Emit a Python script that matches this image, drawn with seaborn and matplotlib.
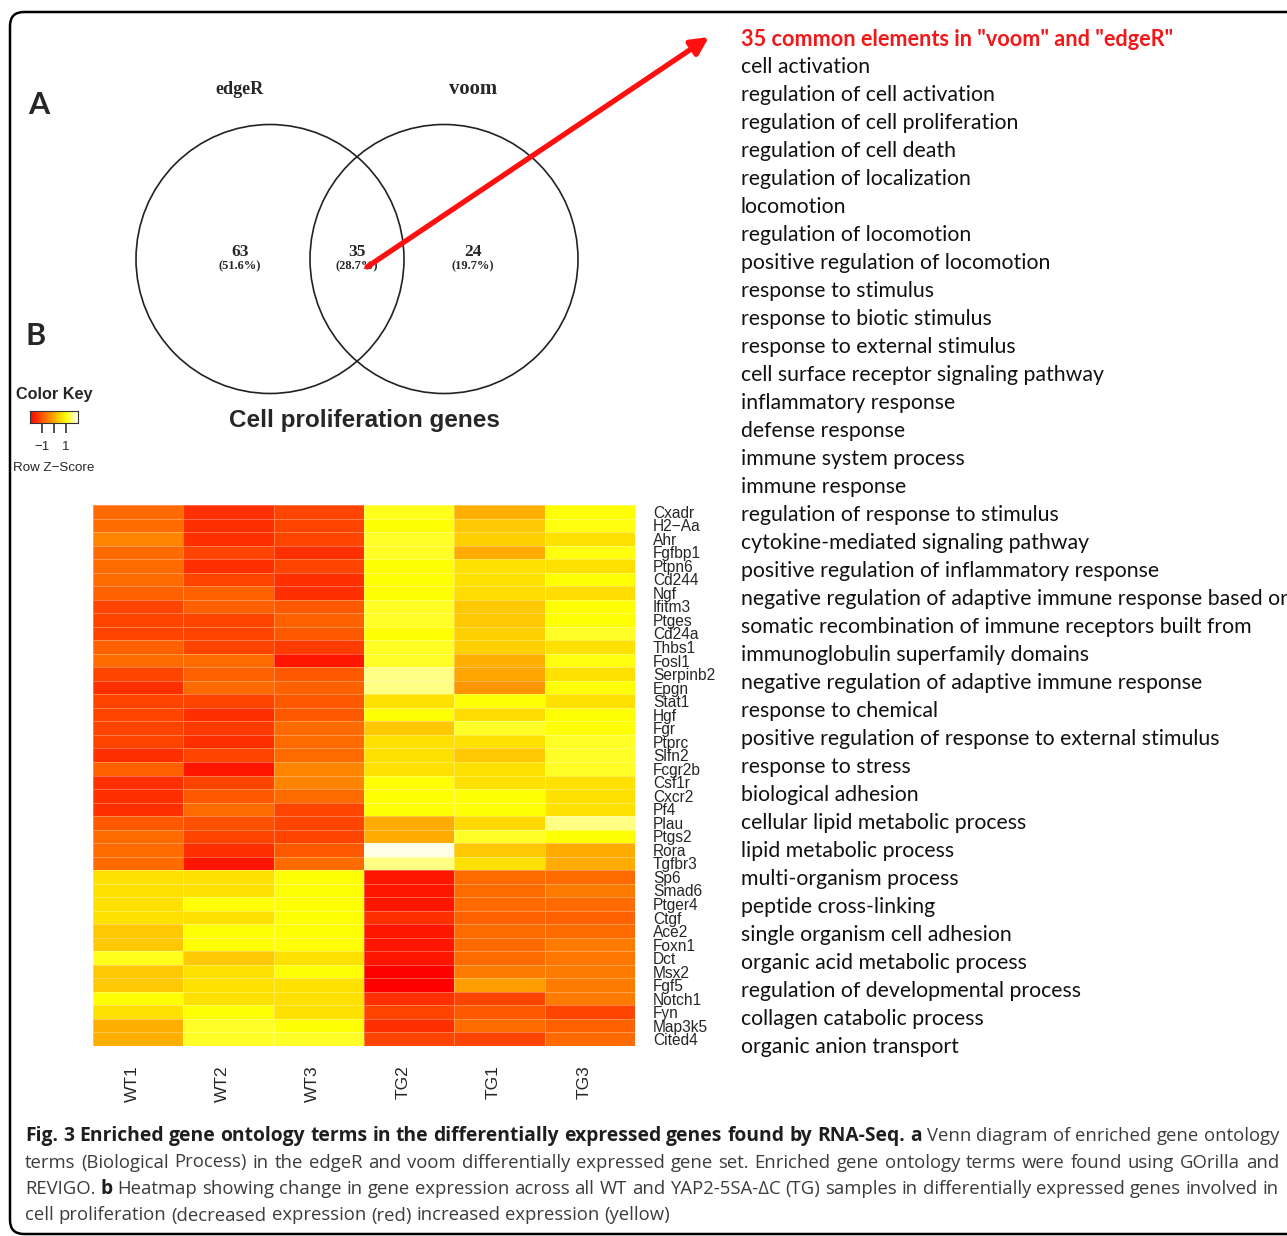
import matplotlib
matplotlib.use('Agg')
from matplotlib import pyplot as plt, font_manager
from matplotlib.colors import LinearSegmentedColormap
from matplotlib.patches import Ellipse, FancyBboxPatch
from matplotlib.transforms import ScaledTranslation

import seaborn as sns
import pandas as pd
import numpy as np

W, H = 1287, 1236

# heatmap data (row z-scores)
genes = ["Cxadr", "H2\u2212Aa", "Ahr", "Fgfbp1", "Ptpn6", "Cd244", "Ngf", "Ifitm3", "Ptges", "Cd24a",
         "Thbs1", "Fosl1", "Serpinb2", "Epgn", "Stat1", "Hgf", "Fgr", "Ptprc", "Slfn2", "Fcgr2b",
         "Csf1r", "Cxcr2", "Pf4", "Plau", "Ptgs2", "Rora", "Tgfbr3", "Sp6", "Smad6", "Ptger4",
         "Ctgf", "Ace2", "Foxn1", "Dct", "Msx2", "Fgf5", "Notch1", "Fyn", "Map3k5", "Cited4"]
samples = ['WT1', 'WT2', 'WT3', 'TG2', 'TG1', 'TG3']

wt1 = [-0.75, -0.75, -0.45, -0.75, -0.75, -0.75, -0.85, -1.2, -1.2, -1.2,
       -0.85, -0.75, -1.2, -1.45, -1.2, -1.2, -1.2, -1.2, -1.45, -0.85,
       -1.45, -1.45, -1.45, -0.95, -0.75, -0.75, -0.75, 0.65, 0.65, 0.65,
       0.65, 0.35, 0.35, 1.1, 0.35, 0.35, 1.0, 0.65, 0.05, 0.05]
wt2 = [-1.45, -1.45, -1.45, -1.2, -1.45, -1.2, -0.85, -0.85, -1.2, -1.2,
       -1.2, -0.75, -0.85, -0.75, -1.2, -1.45, -1.3, -1.45, -1.2, -1.75,
       -1.2, -0.95, -0.75, -1.05, -1.2, -1.45, -1.75, 0.65, 0.65, 1.0,
       0.65, 1.0, 1.0, 0.35, 0.65, 0.65, 0.65, 1.0, 1.15, 1.15]
wt3 = [-1.2, -1.2, -1.2, -1.45, -1.2, -1.45, -1.45, -0.95, -0.85, -0.95,
       -1.3, -1.75, -0.95, -0.85, -0.95, -0.95, -0.75, -0.75, -0.75, -0.45,
       -0.45, -0.75, -1.2, -1.2, -1.2, -0.95, -0.75, 1.0, 1.0, 1.0,
       1.0, 1.0, 1.0, 0.65, 1.0, 0.65, 0.65, 0.65, 1.0, 1.15]
tg2 = [1.1, 1.0, 1.15, 1.15, 1.0, 1.0, 1.0, 1.15, 1.15, 1.0,
       1.15, 1.15, 1.5, 1.5, 0.65, 1.0, 0.35, 0.65, 0.65, 0.65,
       1.0, 1.0, 1.0, 0.0, 0.0, 1.9, 1.5, -1.75, -1.75, -1.75,
       -1.45, -1.75, -1.75, -1.75, -2.0, -2.0, -1.45, -1.2, -1.45, -1.2]
tg1 = [0.05, 0.35, 0.45, 0.0, 0.65, 0.65, 0.6, 0.35, 0.35, 0.45,
       0.45, 0.05, -0.05, -0.25, 1.0, 0.6, 1.15, 0.65, 0.35, 0.65,
       0.65, 1.0, 1.0, 0.55, 1.15, 0.35, 0.65, -0.75, -0.75, -0.75,
       -0.85, -0.75, -0.75, -0.75, -0.55, -0.15, -1.2, -0.95, -0.75, -1.2]
tg3 = [1.0, 1.05, 0.65, 1.05, 0.65, 1.0, 0.6, 1.0, 1.0, 1.15,
       0.65, 1.05, 0.65, 1.0, 0.65, 1.0, 1.0, 1.15, 1.15, 1.15,
       0.65, 0.65, 0.65, 1.5, 1.0, 0.0, 0.0, -0.75, -0.55, -0.75,
       -0.85, -0.75, -0.55, -0.6, -0.55, -0.55, -0.55, -1.2, -0.85, -0.75]

# venn diagram
venn_sets = ['edgeR', 'voom']
venn_counts = ['63', '35', '24']
venn_percents = ['(51.6%)', '(28.7%)', '(19.7%)']

key_ticks = [-1, 0, 1]
key_labels = ['\u22121', '', '1']

go_header = '35 common elements in "voom" and "edgeR"'
go_terms = ["cell activation", "regulation of cell activation", "regulation of cell proliferation",
            "regulation of cell death", "regulation of localization", "locomotion",
            "regulation of locomotion", "positive regulation of locomotion", "response to stimulus",
            "response to biotic stimulus", "response to external stimulus",
            "cell surface receptor signaling pathway", "inflammatory response", "defense response",
            "immune system process", "immune response", "regulation of response to stimulus",
            "cytokine-mediated signaling pathway", "positive regulation of inflammatory response",
            "negative regulation of adaptive immune response based or",
            "somatic recombination of immune receptors built from",
            "immunoglobulin superfamily domains", "negative regulation of adaptive immune response",
            "response to chemical", "positive regulation of response to external stimulus",
            "response to stress", "biological adhesion", "cellular lipid metabolic process",
            "lipid metabolic process", "multi-organism process", "peptide cross-linking",
            "single organism cell adhesion", "organic acid metabolic process",
            "regulation of developmental process", "collagen catabolic process",
            "organic anion transport"]

caption_lines = [
    [("Fig. 3 Enriched gene ontology terms in the differentially expressed genes found by RNA-Seq. a", 'bold'),
     ("Venn diagram of enriched gene ontology", 'normal')],
    [("terms (Biological Process) in the edgeR and voom differentially expressed gene set. Enriched gene "
      "ontology terms were found using GOrilla and", 'normal')],
    [("REVIGO.", 'normal'), ("b", 'bold'),
     ("Heatmap showing change in gene expression across all WT and YAP2-5SA-\u0394C (TG) samples in "
      "differentially expressed genes involved in", 'normal')],
    [("cell proliferation (decreased expression (red) increased expression (yellow)", 'normal')],
]

installed = {f.name for f in font_manager.fontManager.ttflist}


def pick(*names, fallback='DejaVu Sans'):
    return [n for n in names if n in installed] + [fallback]


SANS = pick('Liberation Sans', 'Arial')
SERIF = pick('Liberation Serif', fallback='DejaVu Serif')
LIST_FONT = pick('Lato', 'Open Sans')
CAPTION_FONT = pick('Open Sans', 'Noto Sans')

sns.set_style('white')
plt.rcParams['font.family'] = SANS

heat = LinearSegmentedColormap.from_list('heat', [(0, '#FF0000'), (0.75, '#FFFF00'), (1, '#FFFFFF')])

fig = plt.figure(figsize=(W / 100, H / 100), dpi=100)
renderer = fig.canvas.get_renderer()

# overlay axes in pixel coordinates for the frame, venn and text
ov = fig.add_axes([0, 0, 1, 1])
ov.set_xlim(0, W)
ov.set_ylim(H, 0)
ov.axis('off')


def fit_width(txt, target):
    w = txt.get_window_extent(renderer).width
    txt.set_fontsize(txt.get_fontsize() * target / w)


ov.add_patch(FancyBboxPatch((10, 12), 1400, 1222, boxstyle='round,pad=0,rounding_size=14',
                            fill=False, lw=1.8, ec='black', clip_on=False))

# panel letters
ov.text(39, 105, 'A', fontsize=22, fontweight='bold', family=LIST_FONT, ha='center', va='center')
ov.text(36, 336, 'B', fontsize=22, fontweight='bold', family=LIST_FONT, ha='center', va='center')

# venn diagram
ov.add_patch(Ellipse((270, 259), 268, 269, fill=False, lw=1.2, ec='#222222'))
ov.add_patch(Ellipse((444, 259), 268, 269, fill=False, lw=1.2, ec='#222222'))
for x, name in zip([240, 473], venn_sets):
    t = ov.text(x, 89, name, fontsize=12, fontweight='bold', family=SERIF, ha='center', va='center')
    fit_width(t, 48)
for x, cnt, pct in zip([240, 357, 473], venn_counts, venn_percents):
    ov.text(x, 252, cnt, fontsize=12.5, fontweight='bold', family=SERIF, ha='center', va='center')
    ov.text(x, 266, pct, fontsize=9, fontweight='bold', family=SERIF, ha='center', va='center')

t = ov.text(364, 421, 'Cell proliferation genes', fontsize=17, fontweight='bold', ha='center', va='center')
fit_width(t, 269)

ov.annotate('', xy=(709, 37), xytext=(367, 267),
            arrowprops=dict(arrowstyle='-|>', color='#FF1010', lw=3.8, mutation_scale=26,
                            shrinkA=0, shrinkB=0))

# GO term list
t = ov.text(741, 39, go_header, fontsize=13, fontweight='bold', color='#F01818', family=LIST_FONT,
            ha='left', va='center')
fit_width(t, 431)
term_texts = [ov.text(741, 67 + 28 * i, term, fontsize=13, color='#111111', family=LIST_FONT,
                      ha='left', va='center') for i, term in enumerate(go_terms)]
scale = 276 / term_texts[2].get_window_extent(renderer).width
for tt in term_texts:
    tt.set_fontsize(13 * scale)

# color key
t = ov.text(54, 394, 'Color Key', fontsize=11, fontweight='bold', ha='center', va='center')
fit_width(t, 77)
t = ov.text(54, 468, 'Row Z\u2212Score', fontsize=10, ha='center', va='center')
fit_width(t, 82)
key_ax = fig.add_axes([30 / W, 1 - 423 / H, 48 / W, 12 / H])
key_ax.imshow(np.linspace(-2, 2, 256)[None, :], cmap=heat, vmin=-2, vmax=2, aspect='auto',
              extent=[-2, 2, 0, 1])
key_ax.set_yticks([])
key_ax.set_xticks(key_ticks)
key_ax.set_xticklabels(key_labels, fontsize=9.5)
key_ax.tick_params(axis='x', length=7, width=1.3, color='#444444', pad=6, bottom=True)
for sp in key_ax.spines.values():
    sp.set_visible(True)
    sp.set_color('#333333')
    sp.set_linewidth(0.8)

# heatmap
df = pd.DataFrame({'WT1': wt1, 'WT2': wt2, 'WT3': wt3, 'TG2': tg2, 'TG1': tg1, 'TG3': tg3},
                  index=genes)[samples]
ax = fig.add_axes([93 / W, 1 - 1046 / H, 542 / W, 541 / H])
sns.heatmap(df, ax=ax, cmap=heat, vmin=-2, vmax=2, cbar=False, linewidths=0.6,
            linecolor=(1, 1, 1, 0.3), xticklabels=True, yticklabels=True)
ax.yaxis.tick_right()
ax.set_yticklabels(genes, rotation=0, fontsize=11.2)
ax.set_xticklabels(samples, rotation=90, fontsize=12.5)
ax.tick_params(axis='y', length=0, pad=13)
ax.tick_params(axis='x', length=0, pad=14)
# sample labels sit a little left of the column centres
shift = ScaledTranslation(-6 / 100, 0, fig.dpi_scale_trans)
for lab in ax.get_xticklabels():
    lab.set_transform(lab.get_transform() + shift)
ax.set_xlabel('')
ax.set_ylabel('')

# caption, justified word by word
x0, x1 = 25, 1279
SPACE = 0.27  # word gap as a fraction of the font size in px


def word_width_sum(line, size, bold_size):
    total, n = 0, 0
    for s, wgt in line:
        for word in s.split(' '):
            tt = ov.text(0, 0, word, fontsize=bold_size if wgt == 'bold' else size, fontweight=wgt,
                         family=CAPTION_FONT)
            total += tt.get_window_extent(renderer).width
            n += 1
            tt.remove()
    return total, n


def size_to_fit(line, size, bold_only=False, bold_size=None):
    # a few fixed-point steps so that words plus normal gaps fill the line
    for _ in range(4):
        b = size if not bold_only else bold_size
        r = size if bold_only else size
        total, n = word_width_sum(line, r, b)
        gaps = (n - 1) * SPACE * r * 100 / 72
        factor = (x1 - x0 - gaps) / total
        if bold_only:
            bold_size *= factor ** 0.9
        else:
            size *= factor ** 0.9
    return bold_size if bold_only else size


cap_size = min(size_to_fit(caption_lines[1], 12), size_to_fit(caption_lines[2], 12))
bold_size = size_to_fit(caption_lines[0], cap_size, bold_only=True, bold_size=cap_size)

for i, line in enumerate(caption_lines):
    y = 1136 + 26.5 * i
    words = []
    for s, wgt in line:
        for word in s.split(' '):
            words.append(ov.text(0, y, word, fontsize=bold_size if wgt == 'bold' else cap_size,
                                 fontweight=wgt, family=CAPTION_FONT,
                                 color='#1e1e1e' if wgt == 'bold' else '#3c3c3c', ha='left', va='center'))
    widths = [tt.get_window_extent(renderer).width for tt in words]
    if i < len(caption_lines) - 1:
        gap = (x1 - x0 - sum(widths)) / (len(words) - 1)
    else:
        gap = SPACE * cap_size * 100 / 72
    x = x0
    for tt, w in zip(words, widths):
        tt.set_x(x)
        x += w + gap

fig.savefig('out.png', dpi=100)
